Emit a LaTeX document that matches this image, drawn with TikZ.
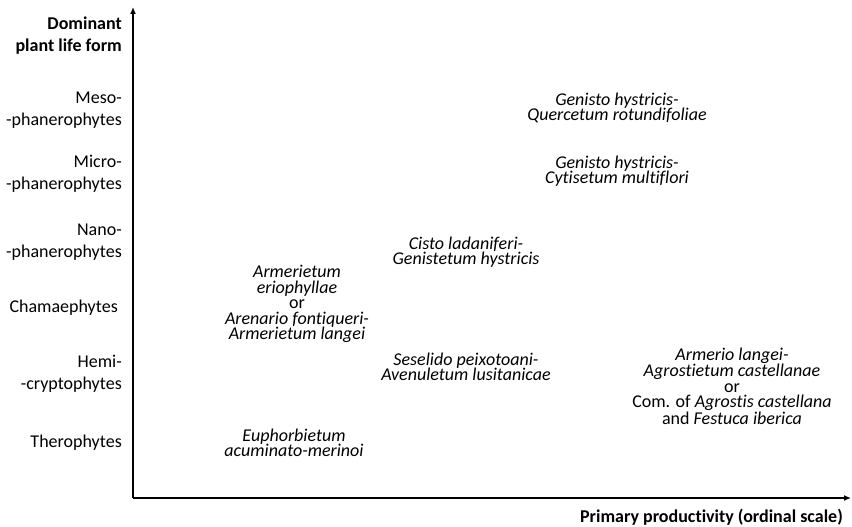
\documentclass[tikz,border=0pt]{standalone}
\usepackage{fontspec}
\setmainfont[Ligatures=NoCommon]{Carlito}
\usetikzlibrary{arrows.meta}
\tikzset{
  axis/.style={line width=1.3pt,-{Latex[length=7pt,width=6pt]}},
  lifeform/.style={anchor=east,align=right,inner sep=0pt,font=\fontsize{18}{22}\selectfont},
  axtitle/.style={inner sep=0pt,font=\fontsize{18}{22}\selectfont\bfseries},
  assoc/.style={align=center,inner sep=0pt,font=\fontsize{18}{15.5}\selectfont\itshape}
}
\begin{document}
\begin{tikzpicture}[x=1pt,y=-1pt]
\useasboundingbox (0,0) rectangle (852,527);
\coordinate (origin) at (133,498);
\coordinate (ytop) at (133,7);
\coordinate (xend) at (851,498);
\draw[axis] (origin) -- (ytop);
\draw[axis] (origin) -- (xend);
\node[axtitle,anchor=east,align=right] (ytitle) at (122,36) {Dominant\\plant life form};
\node[axtitle,anchor=base east] (xtitle) at (843,522) {Primary productivity (ordinal scale)};
\node[lifeform] (meso) at (122,110) {Meso-\\-phanerophytes};
\node[lifeform] (micro) at (122,174) {Micro-\\-phanerophytes};
\node[lifeform] (nano) at (122,242) {Nano-\\-phanerophytes};
\node[lifeform] (chamae) at (118,308) {Chamaephytes};
\node[lifeform] (hemi) at (122,374) {Hemi-\\-cryptophytes};
\node[lifeform] (thero) at (122,443) {Therophytes};
\node[assoc] (quercetum) at (617,108) {Genisto hystricis-\\Quercetum rotundifoliae};
\node[assoc] (cytisetum) at (617,171) {Genisto hystricis-\\Cytisetum multiflori};
\node[assoc] (cisto) at (466,252) {Cisto ladaniferi-\\Genistetum hystricis};
\node[assoc] (armerietum) at (297,304) {Armerietum\\eriophyllae\\\upshape or\\Arenario fontiqueri-\\Armerietum langei};
\node[assoc] (seselido) at (466,367) {Seselido peixotoani-\\Avenuletum lusitanicae};
\node[assoc] (agrostietum) at (732,386) {Armerio langei-\\Agrostietum castellanae\\\upshape or\\\upshape Com. of \itshape Agrostis castellana\\\upshape and \itshape Festuca iberica};
\node[assoc] (euphorbietum) at (294,443) {Euphorbietum\\acuminato-merinoi};
\end{tikzpicture}
\end{document}
